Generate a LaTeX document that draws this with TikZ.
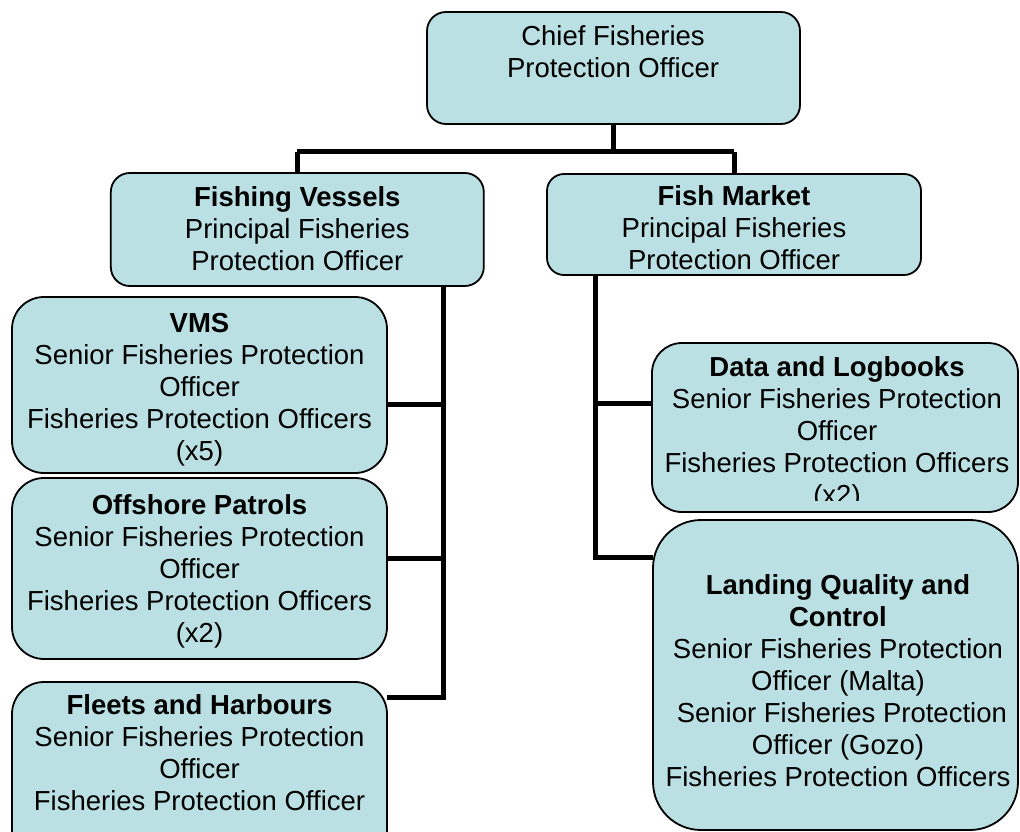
\documentclass[tikz,border=0pt]{standalone}
\usepackage{fontspec}
\setmainfont{Liberation Sans}
\definecolor{boxfill}{RGB}{187,224,227}
\begin{document}
\begin{tikzpicture}[x=1pt,y=-1pt,
  box/.style={draw=black, line width=1.8pt, fill=boxfill, inner sep=0pt, outer sep=0pt},
  txt/.style={align=center, inner sep=0pt, anchor=north, font=\fontsize{27.5}{32}\selectfont},
  conn/.style={line width=5pt, draw=black}]
\clip (0,0) rectangle (1020,832);
% boxes
\node[box, minimum width=373pt, minimum height=112pt, rounded corners=19pt] (chief) at (613.5,68) {};
\node[box, minimum width=373pt, minimum height=113pt, rounded corners=19pt] (fv) at (297.3,229.5) {};
\node[box, minimum width=374pt, minimum height=101pt, rounded corners=17pt] (fm) at (734,224.5) {};
\node[box, minimum width=375pt, minimum height=176pt, rounded corners=32pt] (vms) at (199.5,385) {};
\node[box, minimum width=375pt, minimum height=181pt, rounded corners=32pt] (off) at (199.5,568.5) {};
\node[box, minimum width=375pt, minimum height=181pt, rounded corners=32pt] (fleets) at (199.5,772.5) {};
\node[box, minimum width=366pt, minimum height=169pt, rounded corners=30pt] (data) at (835,427.5) {};
\node[box, minimum width=365pt, minimum height=310pt, rounded corners=48pt] (land) at (835.5,675) {};
% helper coordinates
\coordinate (bus) at (613.5,152);
\coordinate (lt) at (443,0);
\coordinate (rt) at (595,0);
\coordinate (yvms) at (0,404);
\coordinate (yoff) at (0,558);
\coordinate (fljoin) at (387,697);
\coordinate (ydata) at (0,403);
\coordinate (yland) at (0,557);
% connectors
\draw[conn] (chief.south) -- (bus);
\draw[conn] (bus -| fv.north) -- (bus -| fm.north);
\draw[conn] (bus -| fv.north) -- (fv.north);
\draw[conn] (bus -| fm.north) -- (fm.north);
\draw[conn] (fv.south -| lt) |- (fljoin);
\draw[conn] (vms.east |- yvms) -- (lt |- yvms);
\draw[conn] (off.east |- yoff) -- (lt |- yoff);
\draw[conn] (fm.south -| rt) |- (land.west |- yland);
\draw[conn] (rt |- ydata) -- (data.west |- ydata);
% texts
\node[txt] (tchief) at (613,25) {Chief Fisheries\\Protection Officer};
\node[txt] (tfv) at (297.3,186) {\textbf{Fishing Vessels}\\Principal Fisheries\\Protection Officer};
\node[txt] (tfm) at (734,185) {\textbf{Fish Market}\\Principal Fisheries\\Protection Officer};
\node[txt] (tvms) at (199.5,313) {\textbf{VMS}\\Senior Fisheries Protection\\Officer\\Fisheries Protection Officers\\(x5)};
\node[txt] (toff) at (199.5,494) {\textbf{Offshore Patrols}\\Senior Fisheries Protection\\Officer\\Fisheries Protection Officers\\(x2)};
\node[txt] (tfleets) at (199.5,694) {\textbf{Fleets and Harbours}\\Senior Fisheries Protection\\Officer\\Fisheries Protection Officer};
\begin{scope}
\clip[rounded corners=28pt] (653,345) rectangle (1017,500);
\node[txt] (tdata) at (837,356) {\textbf{Data and Logbooks}\\Senior Fisheries Protection\\Officer\\Fisheries Protection Officers\\(x2)};
\end{scope}
\node[txt] (tland) at (838,574) {\textbf{Landing Quality and}\\\textbf{Control}\\Senior Fisheries Protection\\Officer (Malta)\\\ Senior Fisheries Protection\\Officer (Gozo)\\Fisheries Protection Officers};
\end{tikzpicture}
\end{document}
